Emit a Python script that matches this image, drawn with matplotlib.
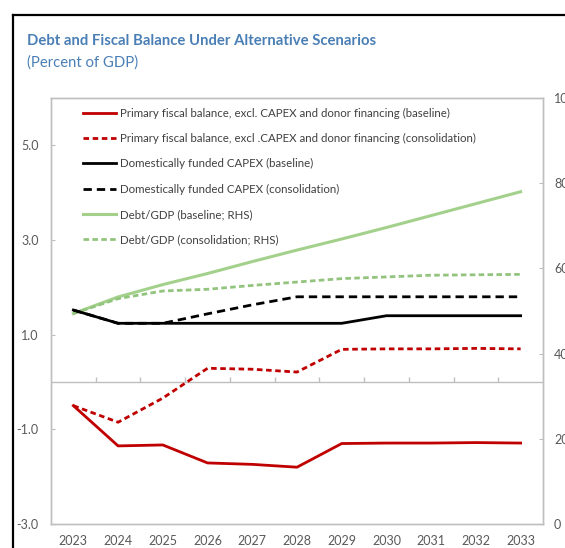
import numpy as np
import matplotlib
matplotlib.use("Agg")
import matplotlib.pyplot as plt
from matplotlib.lines import Line2D

plt.rcParams["font.family"] = ["Lato", "DejaVu Sans"]

years = [2023, 2024, 2025, 2026, 2027, 2028, 2029, 2030, 2031, 2032, 2033]
pb_base = [-0.50, -1.35, -1.33, -1.71, -1.74, -1.80, -1.30, -1.29, -1.29, -1.28, -1.29]
pb_cons = [-0.50, -0.85, -0.34, 0.29, 0.27, 0.21, 0.69, 0.70, 0.70, 0.71, 0.70]
capex_base = [1.52, 1.24, 1.24, 1.24, 1.24, 1.24, 1.24, 1.40, 1.40, 1.40, 1.40]
capex_cons = [1.52, 1.24, 1.24, 1.44, 1.63, 1.80, 1.80, 1.80, 1.80, 1.80, 1.80]
debt_base = [49.4, 53.3, 56.2, 58.8, 61.6, 64.3, 66.9, 69.6, 72.4, 75.2, 78.0]
debt_cons = [49.4, 52.9, 54.7, 55.1, 56.0, 56.8, 57.6, 58.0, 58.4, 58.5, 58.6]

labels = [
    "Primary fiscal balance, excl. CAPEX and donor financing (baseline)",
    "Primary fiscal balance, excl .CAPEX and donor financing (consolidation)",
    "Domestically funded CAPEX (baseline)",
    "Domestically funded CAPEX (consolidation)",
    "Debt/GDP (baseline; RHS)",
    "Debt/GDP (consolidation; RHS)",
]

RED = "#c00000"
GREEN = "#a3d18b"
GREEN_D = "#93c47d"
BLUE = "#4a7fb5"
GRID = "#bfbfbf"
TXT = "#595959"

fig = plt.figure(figsize=(5.65, 5.48), dpi=100)
ax = fig.add_axes([51 / 565, 1 - 524 / 548, 492 / 565, 426 / 548])
ax2 = ax.twinx()
ax.set_zorder(ax2.get_zorder() + 1)
ax.patch.set_visible(False)

x = np.arange(len(years))
lw = 2.0
l1, = ax.plot(x, pb_base, color=RED, lw=lw, label=labels[0])
l2, = ax.plot(x, pb_cons, color=RED, lw=lw, dashes=(2.0, 1.3), label=labels[1])
l3, = ax.plot(x, capex_base, color="black", lw=lw, label=labels[2])
l4, = ax.plot(x, capex_cons, color="black", lw=lw, dashes=(3, 1.8), label=labels[3])
l5, = ax2.plot(x, debt_base, color=GREEN, lw=2.2, label=labels[4])
l6, = ax2.plot(x, debt_cons, color=GREEN_D, lw=lw, dashes=(2, 1.2), label=labels[5])

# zero line with category-boundary ticks
ax.axhline(0, color=GRID, lw=1, zorder=1)
ax.vlines(x[:-1] + 0.5, 0, 0.11, color=GRID, lw=1, zorder=1)

ax.set_xlim(-0.5, len(years) - 0.5)
ax.set_ylim(-3, 6)
ax.set_yticks([-3, -1, 1, 3, 5])
ax.set_yticklabels([f"{v:.1f}" for v in [-3, -1, 1, 3, 5]])
ax.set_xticks(x)
ax.set_xticklabels([str(y) for y in years])
ax2.set_ylim(0, 100)
ax2.set_yticks([0, 20, 40, 60, 80, 100])

for a in (ax, ax2):
    for s in a.spines.values():
        s.set_color(GRID)
        s.set_linewidth(1)
ax.tick_params(axis="y", direction="in", length=3, color=GRID, labelcolor=TXT, labelsize=9, pad=9)
ax.tick_params(axis="x", length=0, labelcolor=TXT, labelsize=9, pad=8)
ax2.tick_params(axis="y", direction="in", length=3, color=GRID, labelcolor=TXT, labelsize=9, pad=8)

ax.legend(handles=[l1, l2, l3, l4, l5, l6], loc="upper left",
          bbox_to_anchor=(83 / 565, 1 - 108 / 548), bbox_transform=fig.transFigure,
          frameon=False, fontsize=8.3, handlelength=2.9, handletextpad=0.28,
          labelspacing=1.23, borderaxespad=0, borderpad=0, labelcolor="#404040")

fig.text(27 / 565, 1 - 41 / 548, "Debt and Fiscal Balance Under Alternative Scenarios",
         color=BLUE, fontsize=10.7, fontweight="bold", va="center")
fig.text(27 / 565, 1 - 63 / 548, "(Percent of GDP)", color=BLUE, fontsize=10.7, va="center")

# outer box frame (cropped)
fig.add_artist(Line2D([13 / 565, 13 / 565], [0, 1 - 15 / 548], color="black", lw=1.6,
                      transform=fig.transFigure))
fig.add_artist(Line2D([13 / 565, 1], [1 - 15 / 548, 1 - 15 / 548], color="black", lw=1.6,
                      transform=fig.transFigure))

fig.savefig("out.png", dpi=100)
